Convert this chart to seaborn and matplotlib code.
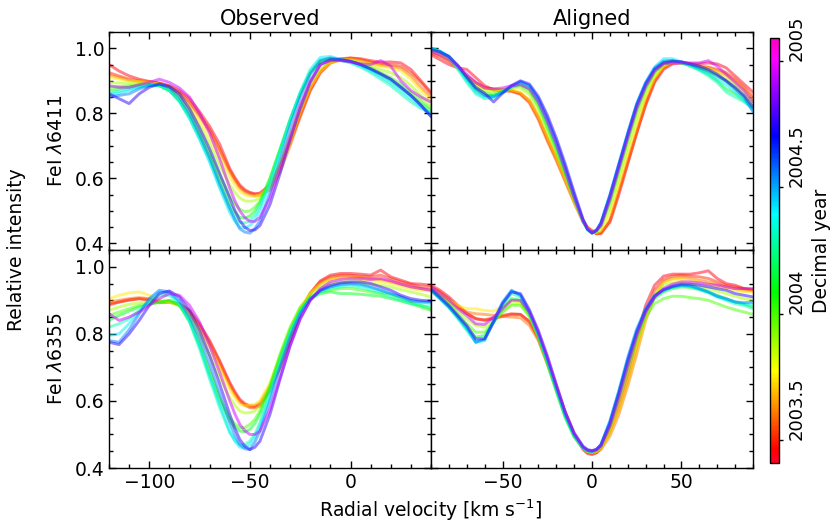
import numpy as np
import pandas as pd
import matplotlib
matplotlib.use("Agg")
import matplotlib.pyplot as plt
import seaborn as sns
from matplotlib.ticker import MultipleLocator

# ---------------- data ----------------
years = [2003.43, 2003.52, 2003.60, 2003.75, 2003.88, 2004.00,
         2004.12, 2004.30, 2004.42, 2004.55, 2004.75, 2004.95]
year_min, year_max = 2003.41, 2005.09

vel_obs = list(range(-120, 41, 5))
vel_ali = list(range(-90, 91, 5))
# extra samples across the line cores
vel_obs_core = [-57.5, -52.5, -47.5]
vel_ali_core = [-2.5, 2.5]

obs_6411 = [
    [0.950,0.930,0.915,0.905,0.898,0.893,0.885,0.870,0.845,0.805,0.760,0.705,0.630,0.580,0.557,0.555,0.580,0.640,0.710,0.790,0.870,0.925,0.955,0.965,0.970,0.968,0.962,0.957,0.958,0.955,0.935,0.900,0.865],
    [0.925,0.915,0.905,0.900,0.897,0.893,0.883,0.865,0.835,0.795,0.750,0.690,0.625,0.575,0.555,0.553,0.575,0.635,0.715,0.800,0.875,0.930,0.958,0.968,0.970,0.965,0.958,0.952,0.950,0.945,0.925,0.895,0.860],
    [0.918,0.910,0.902,0.898,0.895,0.890,0.880,0.860,0.830,0.790,0.745,0.685,0.620,0.570,0.550,0.548,0.565,0.620,0.700,0.790,0.870,0.925,0.955,0.965,0.967,0.962,0.955,0.948,0.945,0.938,0.915,0.880,0.850],
    [0.910,0.905,0.900,0.898,0.895,0.890,0.878,0.855,0.820,0.775,0.725,0.665,0.605,0.560,0.545,0.550,0.575,0.635,0.715,0.805,0.880,0.930,0.955,0.963,0.965,0.960,0.952,0.945,0.940,0.930,0.905,0.870,0.840],
    [0.895,0.893,0.893,0.893,0.892,0.888,0.875,0.850,0.810,0.760,0.705,0.640,0.580,0.540,0.530,0.540,0.580,0.650,0.735,0.820,0.895,0.940,0.960,0.965,0.963,0.955,0.945,0.935,0.925,0.910,0.885,0.855,0.825],
    [0.880,0.882,0.885,0.888,0.890,0.885,0.870,0.840,0.795,0.740,0.680,0.610,0.545,0.505,0.500,0.530,0.600,0.690,0.780,0.860,0.925,0.958,0.965,0.963,0.960,0.952,0.940,0.925,0.910,0.890,0.865,0.840,0.815],
    [0.870,0.875,0.880,0.885,0.888,0.885,0.870,0.838,0.790,0.730,0.665,0.590,0.520,0.480,0.485,0.525,0.600,0.690,0.780,0.860,0.925,0.960,0.968,0.963,0.958,0.948,0.935,0.918,0.900,0.878,0.855,0.830,0.808],
    [0.862,0.868,0.875,0.882,0.886,0.885,0.870,0.836,0.785,0.722,0.655,0.575,0.505,0.465,0.470,0.515,0.590,0.685,0.780,0.862,0.928,0.965,0.970,0.963,0.955,0.942,0.925,0.905,0.885,0.860,0.835,0.815,0.800],
    [0.858,0.862,0.870,0.880,0.886,0.887,0.872,0.838,0.785,0.720,0.650,0.570,0.495,0.450,0.455,0.500,0.580,0.680,0.780,0.865,0.935,0.972,0.975,0.966,0.958,0.945,0.930,0.912,0.893,0.870,0.845,0.820,0.800],
    [0.850,0.855,0.860,0.875,0.885,0.890,0.880,0.850,0.800,0.735,0.665,0.585,0.510,0.445,0.432,0.470,0.555,0.655,0.760,0.850,0.920,0.962,0.970,0.966,0.960,0.950,0.936,0.920,0.905,0.882,0.855,0.825,0.792],
    [0.860,0.845,0.830,0.860,0.880,0.890,0.882,0.860,0.815,0.755,0.690,0.615,0.540,0.470,0.440,0.455,0.520,0.615,0.720,0.815,0.895,0.950,0.965,0.965,0.960,0.950,0.937,0.922,0.905,0.880,0.855,0.825,0.790],
    [0.885,0.880,0.880,0.888,0.895,0.905,0.895,0.878,0.850,0.800,0.740,0.660,0.570,0.500,0.468,0.480,0.540,0.630,0.730,0.825,0.900,0.950,0.962,0.962,0.958,0.952,0.950,0.962,0.945,0.900,0.870,0.850,0.835],
]
obs_6411_core = [
    [0.603,0.565,0.553], [0.598,0.562,0.551], [0.593,0.557,0.546], [0.580,0.549,0.545],
    [0.557,0.531,0.532], [0.522,0.498,0.512], [0.497,0.478,0.500], [0.482,0.463,0.487],
    [0.469,0.448,0.472], [0.474,0.435,0.446], [0.502,0.450,0.442], [0.532,0.480,0.468],
]

ali_6411 = [
    [0.980,0.965,0.950,0.940,0.935,0.910,0.885,0.872,0.870,0.868,0.860,0.835,0.785,0.720,0.660,0.595,0.530,0.470,0.438,0.432,0.465,0.550,0.645,0.740,0.825,0.895,0.935,0.952,0.955,0.952,0.952,0.955,0.952,0.940,0.915,0.890,0.865],
    [0.985,0.975,0.960,0.940,0.915,0.895,0.880,0.875,0.872,0.870,0.862,0.840,0.790,0.725,0.665,0.600,0.535,0.470,0.440,0.430,0.470,0.560,0.650,0.740,0.830,0.900,0.940,0.955,0.958,0.952,0.945,0.942,0.935,0.925,0.905,0.880,0.850],
    [0.990,0.978,0.962,0.940,0.915,0.893,0.878,0.872,0.870,0.868,0.858,0.832,0.780,0.715,0.655,0.590,0.525,0.465,0.438,0.432,0.470,0.560,0.655,0.745,0.835,0.900,0.940,0.955,0.955,0.950,0.942,0.940,0.930,0.918,0.900,0.875,0.845],
    [0.995,0.982,0.965,0.940,0.912,0.890,0.875,0.872,0.872,0.872,0.865,0.840,0.792,0.728,0.665,0.598,0.530,0.468,0.437,0.440,0.490,0.580,0.675,0.765,0.850,0.910,0.945,0.958,0.956,0.950,0.942,0.938,0.928,0.915,0.895,0.870,0.840],
    [0.995,0.985,0.968,0.942,0.910,0.885,0.870,0.868,0.872,0.878,0.878,0.858,0.810,0.745,0.680,0.610,0.535,0.468,0.435,0.448,0.510,0.600,0.695,0.785,0.862,0.918,0.948,0.958,0.955,0.948,0.940,0.932,0.920,0.905,0.885,0.860,0.830],
    [1.000,0.990,0.972,0.945,0.908,0.878,0.862,0.860,0.868,0.880,0.885,0.868,0.822,0.755,0.688,0.615,0.538,0.468,0.434,0.455,0.525,0.620,0.715,0.805,0.875,0.925,0.952,0.958,0.955,0.948,0.938,0.928,0.915,0.898,0.875,0.850,0.820],
    [1.000,0.990,0.973,0.944,0.905,0.872,0.855,0.855,0.866,0.882,0.890,0.875,0.830,0.765,0.695,0.620,0.540,0.468,0.433,0.458,0.535,0.630,0.725,0.815,0.882,0.930,0.955,0.960,0.955,0.946,0.935,0.920,0.900,0.875,0.860,0.840,0.815],
    [1.000,0.990,0.972,0.935,0.895,0.860,0.845,0.848,0.862,0.880,0.892,0.880,0.838,0.775,0.705,0.628,0.545,0.470,0.432,0.460,0.545,0.640,0.735,0.825,0.890,0.935,0.960,0.962,0.955,0.945,0.932,0.915,0.895,0.865,0.850,0.835,0.815],
    [1.000,0.992,0.975,0.940,0.900,0.865,0.850,0.850,0.865,0.882,0.895,0.885,0.843,0.782,0.712,0.632,0.548,0.470,0.432,0.462,0.548,0.645,0.740,0.830,0.895,0.942,0.968,0.968,0.958,0.948,0.935,0.922,0.905,0.888,0.865,0.840,0.810],
    [1.000,0.990,0.975,0.945,0.910,0.875,0.855,0.852,0.865,0.885,0.898,0.885,0.845,0.785,0.715,0.635,0.550,0.470,0.432,0.465,0.550,0.645,0.740,0.830,0.895,0.940,0.960,0.962,0.958,0.950,0.940,0.930,0.915,0.900,0.875,0.850,0.805],
    [0.995,0.988,0.975,0.948,0.912,0.880,0.862,0.835,0.862,0.885,0.900,0.890,0.852,0.795,0.725,0.645,0.558,0.475,0.432,0.462,0.545,0.640,0.735,0.825,0.890,0.935,0.955,0.960,0.958,0.952,0.945,0.935,0.920,0.900,0.880,0.855,0.820],
    [0.990,0.980,0.965,0.945,0.920,0.895,0.878,0.875,0.878,0.885,0.888,0.875,0.835,0.775,0.705,0.625,0.542,0.470,0.436,0.455,0.535,0.630,0.725,0.815,0.882,0.930,0.952,0.955,0.955,0.955,0.955,0.962,0.945,0.920,0.895,0.870,0.835],
]
ali_6411_core = [
    [0.448,0.430], [0.450,0.430], [0.447,0.430], [0.447,0.433],
    [0.445,0.436], [0.444,0.438], [0.443,0.439], [0.443,0.440],
    [0.443,0.440], [0.443,0.441], [0.444,0.440], [0.446,0.441],
]

obs_6355 = [
    [0.890,0.895,0.902,0.905,0.900,0.893,0.895,0.890,0.870,0.830,0.780,0.720,0.655,0.605,0.585,0.590,0.635,0.700,0.780,0.860,0.920,0.958,0.975,0.980,0.980,0.978,0.975,0.990,0.970,0.960,0.950,0.948,0.945],
    [0.885,0.895,0.900,0.905,0.903,0.895,0.895,0.888,0.865,0.825,0.775,0.715,0.650,0.600,0.580,0.585,0.630,0.700,0.785,0.865,0.922,0.955,0.970,0.975,0.975,0.972,0.970,0.975,0.965,0.955,0.948,0.940,0.938],
    [0.895,0.900,0.905,0.908,0.905,0.898,0.895,0.885,0.860,0.818,0.768,0.708,0.645,0.598,0.585,0.595,0.645,0.720,0.800,0.870,0.920,0.950,0.965,0.970,0.970,0.968,0.965,0.962,0.955,0.948,0.940,0.935,0.930],
    [0.905,0.915,0.922,0.925,0.915,0.900,0.895,0.885,0.858,0.812,0.760,0.698,0.635,0.590,0.588,0.600,0.655,0.735,0.815,0.878,0.922,0.948,0.962,0.966,0.965,0.962,0.958,0.955,0.950,0.942,0.935,0.930,0.928],
    [0.870,0.880,0.888,0.893,0.895,0.893,0.895,0.885,0.850,0.795,0.735,0.670,0.610,0.570,0.565,0.585,0.645,0.730,0.810,0.875,0.918,0.940,0.950,0.955,0.955,0.952,0.948,0.945,0.940,0.932,0.925,0.918,0.910],
    [0.855,0.865,0.875,0.885,0.890,0.893,0.900,0.885,0.840,0.770,0.690,0.610,0.550,0.520,0.530,0.570,0.645,0.740,0.820,0.880,0.910,0.925,0.930,0.935,0.935,0.930,0.925,0.920,0.918,0.905,0.895,0.885,0.875],
    [0.840,0.855,0.868,0.880,0.888,0.895,0.900,0.885,0.838,0.765,0.680,0.600,0.540,0.510,0.515,0.560,0.640,0.730,0.810,0.870,0.905,0.920,0.925,0.920,0.920,0.918,0.915,0.912,0.905,0.898,0.890,0.880,0.870],
    [0.820,0.830,0.845,0.870,0.895,0.915,0.915,0.888,0.835,0.755,0.665,0.580,0.505,0.470,0.480,0.535,0.625,0.720,0.805,0.865,0.905,0.925,0.935,0.940,0.942,0.938,0.930,0.922,0.910,0.900,0.890,0.885,0.880],
    [0.795,0.800,0.830,0.865,0.900,0.925,0.922,0.893,0.842,0.765,0.675,0.590,0.510,0.462,0.470,0.525,0.615,0.710,0.800,0.865,0.905,0.928,0.940,0.945,0.948,0.945,0.938,0.930,0.920,0.910,0.900,0.895,0.890],
    [0.780,0.775,0.812,0.860,0.905,0.930,0.925,0.898,0.852,0.788,0.708,0.622,0.535,0.470,0.455,0.510,0.600,0.700,0.790,0.860,0.905,0.930,0.940,0.948,0.950,0.948,0.940,0.930,0.920,0.910,0.898,0.895,0.895],
    [0.775,0.768,0.800,0.840,0.885,0.920,0.928,0.910,0.870,0.810,0.735,0.650,0.560,0.485,0.455,0.480,0.560,0.665,0.765,0.845,0.900,0.930,0.945,0.952,0.955,0.955,0.950,0.940,0.930,0.915,0.905,0.900,0.898],
    [0.860,0.840,0.850,0.865,0.885,0.905,0.920,0.915,0.885,0.835,0.765,0.685,0.600,0.530,0.500,0.510,0.575,0.670,0.765,0.845,0.900,0.935,0.955,0.962,0.965,0.965,0.962,0.965,0.958,0.948,0.940,0.935,0.930],
]
obs_6355_core = [
    [0.628,0.592,0.584], [0.623,0.587,0.579], [0.619,0.588,0.586], [0.610,0.585,0.590],
    [0.587,0.564,0.570], [0.532,0.520,0.545], [0.522,0.508,0.533], [0.484,0.470,0.502],
    [0.480,0.461,0.492], [0.498,0.457,0.477], [0.518,0.465,0.462], [0.562,0.511,0.500],
]

ali_6355 = [
    [0.945,0.930,0.910,0.885,0.862,0.845,0.840,0.845,0.852,0.858,0.858,0.838,0.790,0.720,0.640,0.565,0.500,0.455,0.440,0.460,0.515,0.590,0.680,0.790,0.885,0.945,0.972,0.978,0.978,0.978,0.982,0.988,0.965,0.950,0.945,0.935,0.930],
    [0.940,0.925,0.905,0.880,0.860,0.845,0.842,0.848,0.855,0.860,0.858,0.835,0.785,0.715,0.640,0.565,0.500,0.458,0.442,0.458,0.505,0.575,0.660,0.760,0.860,0.930,0.962,0.972,0.975,0.972,0.970,0.965,0.955,0.945,0.940,0.935,0.932],
    [0.938,0.920,0.900,0.880,0.865,0.860,0.858,0.855,0.852,0.850,0.848,0.825,0.780,0.710,0.635,0.560,0.497,0.458,0.445,0.455,0.495,0.560,0.645,0.740,0.840,0.910,0.955,0.965,0.968,0.965,0.960,0.955,0.948,0.940,0.935,0.930,0.928],
    [0.935,0.918,0.900,0.885,0.875,0.875,0.870,0.868,0.880,0.900,0.895,0.855,0.795,0.722,0.645,0.568,0.503,0.460,0.446,0.458,0.500,0.570,0.655,0.750,0.845,0.915,0.952,0.962,0.962,0.960,0.955,0.948,0.940,0.935,0.930,0.925,0.925],
    [0.932,0.915,0.895,0.870,0.845,0.825,0.820,0.840,0.865,0.890,0.890,0.855,0.795,0.720,0.640,0.560,0.497,0.460,0.448,0.462,0.515,0.595,0.685,0.775,0.860,0.915,0.945,0.952,0.952,0.948,0.940,0.935,0.928,0.920,0.912,0.905,0.900],
    [0.930,0.910,0.888,0.860,0.830,0.805,0.805,0.835,0.865,0.885,0.885,0.852,0.790,0.710,0.628,0.550,0.492,0.458,0.448,0.465,0.525,0.610,0.700,0.785,0.850,0.890,0.905,0.912,0.912,0.908,0.905,0.900,0.890,0.880,0.872,0.865,0.858],
    [0.930,0.905,0.880,0.850,0.815,0.790,0.795,0.835,0.875,0.905,0.900,0.860,0.795,0.715,0.632,0.552,0.494,0.459,0.449,0.468,0.530,0.620,0.715,0.800,0.865,0.905,0.925,0.935,0.940,0.938,0.932,0.925,0.915,0.905,0.895,0.888,0.880],
    [0.930,0.905,0.878,0.845,0.810,0.775,0.782,0.835,0.885,0.920,0.910,0.862,0.798,0.720,0.636,0.555,0.496,0.460,0.449,0.470,0.535,0.625,0.720,0.805,0.868,0.910,0.928,0.938,0.942,0.940,0.932,0.922,0.910,0.900,0.890,0.885,0.875],
    [0.932,0.908,0.882,0.850,0.815,0.775,0.780,0.838,0.890,0.928,0.915,0.865,0.800,0.722,0.638,0.557,0.497,0.460,0.449,0.470,0.538,0.628,0.725,0.810,0.872,0.913,0.932,0.942,0.946,0.943,0.935,0.925,0.912,0.902,0.895,0.890,0.888],
    [0.930,0.905,0.880,0.850,0.820,0.775,0.785,0.840,0.895,0.930,0.915,0.865,0.800,0.725,0.640,0.560,0.500,0.462,0.450,0.470,0.540,0.630,0.730,0.815,0.875,0.915,0.930,0.940,0.945,0.943,0.935,0.925,0.912,0.905,0.895,0.893,0.895],
    [0.935,0.910,0.885,0.855,0.825,0.785,0.785,0.835,0.890,0.925,0.920,0.872,0.810,0.735,0.650,0.568,0.505,0.465,0.452,0.468,0.533,0.622,0.720,0.805,0.870,0.912,0.932,0.942,0.948,0.948,0.945,0.940,0.935,0.930,0.920,0.915,0.910],
    [0.940,0.920,0.900,0.875,0.855,0.830,0.828,0.850,0.875,0.900,0.900,0.865,0.805,0.730,0.648,0.567,0.503,0.462,0.450,0.465,0.525,0.610,0.705,0.795,0.865,0.910,0.935,0.948,0.955,0.955,0.952,0.948,0.945,0.940,0.935,0.935,0.935],
]
ali_6355_core = [
    [0.443,0.445], [0.446,0.446], [0.448,0.447], [0.449,0.449],
    [0.450,0.452], [0.450,0.452], [0.451,0.454], [0.451,0.454],
    [0.451,0.454], [0.453,0.455], [0.455,0.456], [0.453,0.454],
]

panel_titles = ["Observed", "Aligned"]
line_labels = ["FeI $\\lambda$6411", "FeI $\\lambda$6355"]

# ---------------- build long tables ----------------
def long_table(vel, spectra, vel_core, spectra_core):
    rows = []
    for yr, spec, core in zip(years, spectra, spectra_core):
        for v, f in zip(vel, spec):
            rows.append((v, f, yr))
        for v, f in zip(vel_core, core):
            rows.append((v, f, yr))
    df = pd.DataFrame(rows, columns=["velocity", "intensity", "year"])
    return df.sort_values(["year", "velocity"]).reset_index(drop=True)

tables = [[long_table(vel_obs, obs_6411, vel_obs_core, obs_6411_core),
           long_table(vel_ali, ali_6411, vel_ali_core, ali_6411_core)],
          [long_table(vel_obs, obs_6355, vel_obs_core, obs_6355_core),
           long_table(vel_ali, ali_6355, vel_ali_core, ali_6355_core)]]

# ---------------- figure ----------------
sns.set_style("ticks")
plt.rcParams["font.family"] = ["DejaVu Sans"]
for key in ["text.color", "axes.labelcolor", "xtick.color", "ytick.color", "axes.edgecolor"]:
    plt.rcParams[key] = "black"
fig = plt.figure(figsize=(8.34, 5.26), dpi=100)

W, H = 834.0, 526.0
def fax(x0, y0, x1, y1):
    return fig.add_axes([x0 / W, 1 - y1 / H, (x1 - x0) / W, (y1 - y0) / H])

axes = [[fax(109, 32, 431, 250), fax(431, 32, 753, 250)],
        [fax(109, 250, 431, 468), fax(431, 250, 753, 468)]]

norm = matplotlib.colors.Normalize(vmin=year_min, vmax=year_max)
xlims = [(-120, 40), (-90, 90)]
ylims = [(0.38, 1.05), (0.40, 1.05)]

for r in range(2):
    for c in range(2):
        ax = axes[r][c]
        sns.lineplot(data=tables[r][c], x="velocity", y="intensity", hue="year",
                     palette="gist_rainbow", hue_norm=norm, legend=False,
                     estimator=None, alpha=0.5, linewidth=2.1, ax=ax)
        ax.set_xlim(*xlims[c])
        ax.set_ylim(*ylims[r])
        ax.xaxis.set_major_locator(MultipleLocator(50))
        ax.xaxis.set_minor_locator(MultipleLocator(10))
        ax.yaxis.set_major_locator(MultipleLocator(0.2))
        ax.yaxis.set_minor_locator(MultipleLocator(0.05))
        ax.tick_params(which="both", direction="in", top=True, right=True,
                       labelsize=13.5, width=1.0, color="black", labelcolor="black")
        ax.tick_params(which="major", length=5)
        ax.tick_params(which="minor", length=2.8)
        for sp in ax.spines.values():
            sp.set_linewidth(1.0)
            sp.set_color("black")
        ax.set_xlabel("")
        ax.set_ylabel("")
        if r == 0:
            ax.tick_params(labelbottom=False)
            ax.set_title(panel_titles[c], fontsize=15, pad=5, color="black")
        if c == 1:
            ax.tick_params(labelleft=False)
        else:
            ax.set_ylabel(line_labels[r], fontsize=13.5, labelpad=6, color="black")

fig.text(17 / W, 1 - 250 / H, "Relative intensity", rotation=90,
         ha="center", va="center", fontsize=13.5, color="black")
fig.text(431 / W, 1 - 510 / H, "Radial velocity [km s$^{-1}$]",
         ha="center", va="center", fontsize=13.5, color="black")

cax = fax(770, 38, 779, 463)
sm = matplotlib.cm.ScalarMappable(norm=norm, cmap="gist_rainbow")
cb = fig.colorbar(sm, cax=cax)
cb.set_ticks([2003.5, 2004.0, 2004.5, 2005.0])
cb.set_ticklabels(["2003.5", "2004", "2004.5", "2005"])
cb.ax.tick_params(labelsize=13, direction="out", length=3, width=1.0,
                  color="black", labelcolor="black")
for lab in cb.ax.get_yticklabels():
    lab.set_rotation(90)
    lab.set_va("bottom")
cb.outline.set_linewidth(1.0)
cb.outline.set_edgecolor("black")
cb.set_label("Decimal year", fontsize=13.5, labelpad=4, color="black")

fig.savefig("out.png", dpi=100)
